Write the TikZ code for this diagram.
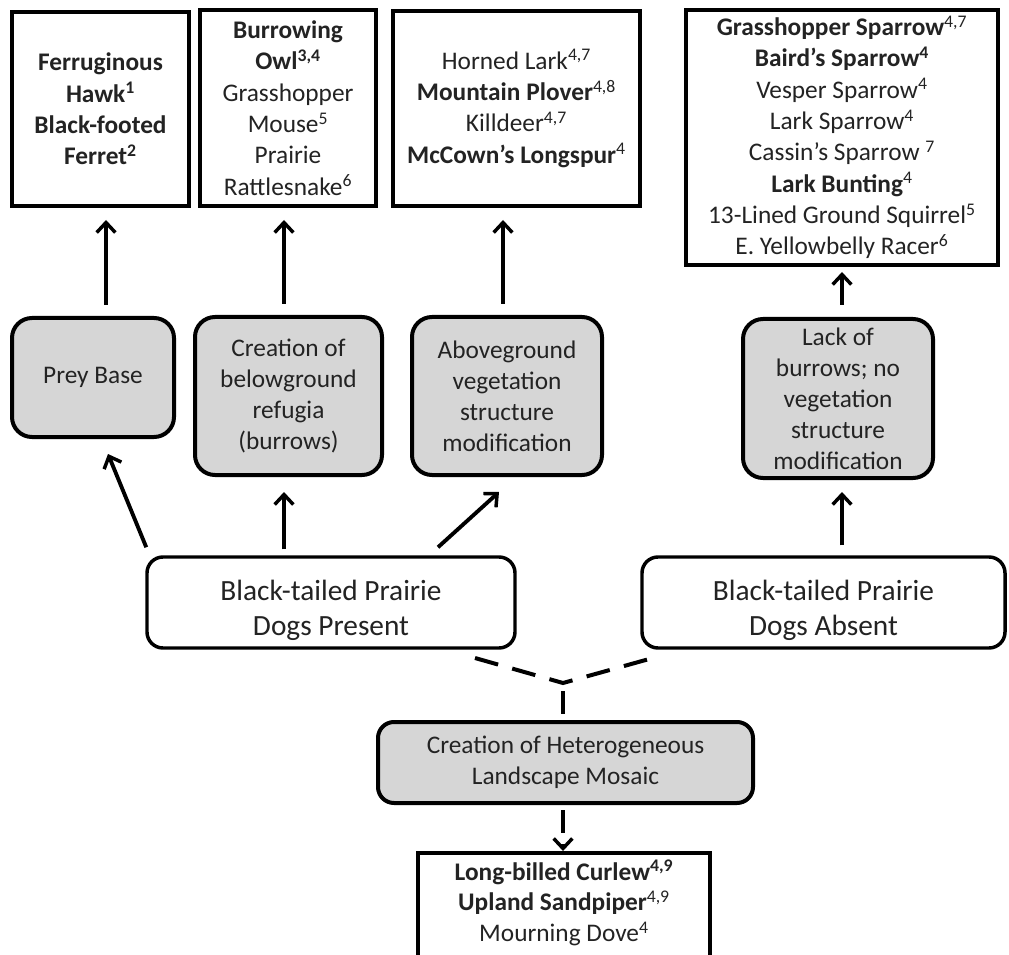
\documentclass[tikz,border=0pt]{standalone}
\usepackage{fontspec}
\setmainfont{Carlito}
\usetikzlibrary{arrows.meta,calc}
\definecolor{txt}{RGB}{35,35,35}
\definecolor{boxgray}{RGB}{214,214,214}
\tikzset{
  sq/.style={draw=black, line width=3pt, fill=white, align=center, text=txt,
    font=\fontsize{19}{23.5}\selectfont, inner sep=0pt},
  gr/.style={draw=black, line width=3pt, fill=boxgray, rounded corners=15pt, align=center,
    text=txt, font=\fontsize{19}{23.2}\selectfont, inner sep=0pt},
  wr/.style={draw=black, line width=2.6pt, fill=white, rounded corners=12pt},
  wtxt/.style={align=center, text=txt, font=\fontsize{22}{26.5}\selectfont, inner sep=0pt},
  arr/.style={line width=2.9pt, -{Straight Barb[length=7.5pt,width=14pt,line width=2.6pt]}},
  dsh/.style={line width=3pt, dash pattern=on 18pt off 11pt},
}
\begin{document}
\begin{tikzpicture}[x=0.75pt,y=-0.75pt]
\useasboundingbox (0,0) rectangle (1009,955);
% top boxes
\node[sq, minimum width=132.75pt, minimum height=145.5pt] (b1) at (100.5,109)
  {\textbf{Ferruginous}\\ \textbf{Hawk\textsuperscript{1}}\\ \textbf{Black-footed}\\ \textbf{Ferret\textsuperscript{2}}};
\node[sq, minimum width=132pt, minimum height=147pt] (b2) at (288,108)
  {\textbf{Burrowing}\\ \textbf{Owl\textsuperscript{3,4}}\\ Grasshopper\\ Mouse\textsuperscript{5}\\ Prairie\\ Rattlesnake\textsuperscript{6}};
\node[sq, minimum width=185.25pt, minimum height=146.25pt] (b3) at (516.5,108.5)
  {Horned Lark\textsuperscript{4,7}\\ \textbf{Mountain Plover}\textsuperscript{4,8}\\ Killdeer\textsuperscript{4,7}\\ \textbf{McCown’s Longspur}\textsuperscript{4}};
\node[sq, minimum width=234pt, minimum height=191.25pt] (b4) at (842,137.5)
  {\textbf{Grasshopper Sparrow}\textsuperscript{4,7}\\ \textbf{Baird’s Sparrow\textsuperscript{4}}\\ Vesper Sparrow\textsuperscript{4}\\ Lark Sparrow\textsuperscript{4}\\ Cassin’s Sparrow \textsuperscript{7}\\ \textbf{Lark Bunting}\textsuperscript{4}\\ 13-Lined Ground Squirrel\textsuperscript{5}\\ E. Yellowbelly Racer\textsuperscript{6}};
% gray process boxes
\node[gr, minimum width=121.5pt, minimum height=89.25pt] (prey) at (93,377.5) {Prey Base};
\node[gr, minimum width=140.25pt, minimum height=118.5pt] (crea) at (288.5,396)
  {Creation of\\ belowground\\ refugia\\ (burrows)};
\node[gr, minimum width=142.5pt, minimum height=118.5pt] (above) at (507,396)
  {Aboveground\\ vegetation\\ structure\\ modification};
\node[gr, minimum width=142.5pt, minimum height=119.25pt] (lack) at (838,398.5)
  {Lack of\\ burrows; no\\ vegetation\\ structure\\ modification};
% prairie dog boxes
\node[wr, minimum width=276pt, minimum height=68.25pt] (pres) at (331,602.5) {};
\node[wtxt] (prestxt) at (331,610) {Black-tailed Prairie\\ Dogs Present};
\node[wr, minimum width=272.25pt, minimum height=68.25pt] (abs) at (823.5,602.5) {};
\node[wtxt] (abstxt) at (823.5,610) {Black-tailed Prairie\\ Dogs Absent};
% mosaic
\node[gr, rounded corners=12pt, minimum width=281.25pt, minimum height=60.75pt] (mos) at (565.5,762.5)
  {Creation of Heterogeneous\\ Landscape Mosaic};
% bottom box
\node[sq, minimum width=219pt, minimum height=88.5pt] (bot) at (564,912) {};
\node[align=center, text=txt, font=\fontsize{19}{23}\selectfont, inner sep=0pt] (bottxt) at (564,903)
  {\textbf{Long-billed Curlew\textsuperscript{4,9}}\\ \textbf{Upland Sandpiper}\textsuperscript{4,9}\\ Mourning Dove\textsuperscript{4}};
% arrows to top boxes
\draw[arr] ([shift={(13,-11)}]prey.north) -- ([shift={(5.5,12)}]b1.south);
\draw[arr] ([shift={(-4.5,-11)}]crea.north) -- ([shift={(-4,12)}]b2.south);
\draw[arr] ([shift={(-4,-11)}]above.north) -- ([shift={(-13.5,12)}]b3.south);
\draw[arr] ([shift={(4,-12)}]lack.north) -- ([shift={(0,5)}]b4.south);
% arrows from prairie dog boxes
\draw[arr] ([shift={(1,-8)}]pres.north west) -- ([shift={(15,15)}]prey.south);
\draw[arr] ([shift={(-47,-6)}]pres.north) -- ([shift={(-4.5,15)}]crea.south);
\draw[arr] ([shift={(107,-8)}]pres.north) -- ([shift={(-8,15)}]above.south);
\draw[arr] ([shift={(18.5,-10)}]abs.north) -- ([shift={(4,12)}]lack.south);
% dashed Y
\coordinate (yl) at (475,658);
\coordinate (yr) at (660,656);
\coordinate (yc) at (563,683);
\draw[dsh] (yl) -- (yc) -- (yr);
\draw[line width=3pt, dash pattern=on 17pt off 10pt, dash phase=-6pt] (yc) -- (yc |- mos.north);
\draw[line width=3pt, dash pattern=on 17pt off 8pt, dash phase=-5pt,
  -{Straight Barb[length=7.5pt,width=14pt,line width=2.6pt]}] ([yshift=1pt]mos.south -| yc) -- (yc |- bot.north);
\end{tikzpicture}
\end{document}
